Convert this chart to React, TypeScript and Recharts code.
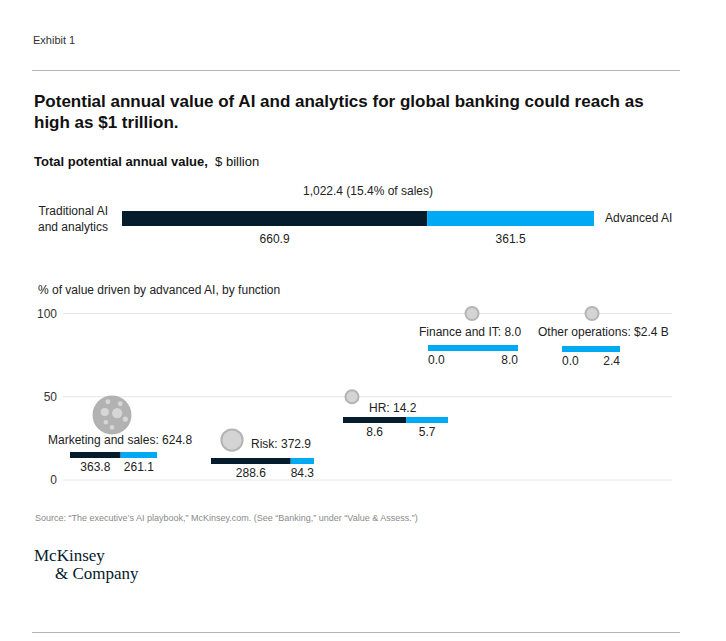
import React from 'react'
import {
    BarChart,
    Bar,
    XAxis,
    YAxis,
    ZAxis,
    ScatterChart,
    Scatter,
    CartesianGrid,
    LabelList,
} from 'recharts'

const NAVY = '#051c2c'
const BLUE = '#00a9f4'
const FONT = '"Liberation Sans", Arial, Helvetica, sans-serif'
const SERIF = '"Liberation Serif", "Times New Roman", serif'

// total potential annual value, $ billion
const overallTraditional = 660.9
const overallAdvanced = 361.5
const overallCaption = '1,022.4 (15.4% of sales)'

// by function
const functions = ['Marketing and sales', 'Risk', 'HR', 'Finance and IT', 'Other operations']
const functionTotals = [624.8, 372.9, 14.2, 8.0, 2.4]
const functionTotalLabels = ['624.8', '372.9', '14.2', '8.0', '$2.4 B']
const traditionalValues = [363.8, 288.6, 8.6, 0.0, 0.0]
const advancedValues = [261.1, 84.3, 5.7, 8.0, 2.4]
// % of value driven by advanced AI, as plotted
const advancedShare = [39, 24, 50, 100, 100]
const shareTicks = [0, 50, 100]

// where each function's mini bar + caption sits on the page
const miniLayout = [
    { left: 70, top: 452, width: 87, labelX: 48, labelY: 444 },
    { left: 211, top: 458, width: 103, labelX: 251, labelY: 448 },
    { left: 343, top: 417, width: 105, labelX: 369, labelY: 412 },
    { left: 428, top: 345, width: 90, labelX: 419, labelY: 336 },
    { left: 562, top: 346, width: 58, labelX: 538, labelY: 336 },
]

type TxtProps = {
    x: number
    y: number
    size?: number
    weight?: number
    anchor?: 'start' | 'middle' | 'end'
    color?: string
    family?: string
    children: React.ReactNode
}

// absolutely placed text, y is the baseline
function Txt({ x, y, size = 12, weight = 400, anchor = 'start', color = '#222', family = FONT, children }: TxtProps) {
    const shift = anchor === 'middle' ? '-50%' : anchor === 'end' ? '-100%' : '0'
    return (
        <div
            style={{
                position: 'absolute',
                left: x,
                top: y - 0.8465 * size,
                fontSize: size,
                lineHeight: `${size}px`,
                fontWeight: weight,
                color,
                fontFamily: family,
                whiteSpace: 'nowrap',
                transform: `translateX(${shift})`,
            }}
        >
            {children}
        </div>
    )
}

// value under a bar segment; when the navy part is empty the blue label
// also writes the 0.0 at the start and sits at the end of the bar
const segmentLabel = (gap: number, size: number, leadingZero = false) => (props: any) => {
    const { x, y, width, height, value } = props
    const base = y + height + gap
    const common = { fontSize: size, fill: '#222', fontFamily: FONT }
    if (leadingZero) {
        return (
            <g>
                <text x={x} y={base} textAnchor="start" {...common}>{(0).toFixed(1)}</text>
                <text x={x + width} y={base} textAnchor="end" {...common}>{Number(value).toFixed(1)}</text>
            </g>
        )
    }
    return (
        <text x={x + width / 2} y={base} textAnchor="middle" {...common}>
            {Number(value).toFixed(1)}
        </text>
    )
}

function MiniBar({ i }: { i: number }) {
    const pad = 16
    const lay = miniLayout[i]
    const trad = traditionalValues[i]
    const adv = advancedValues[i]
    const data = [{ name: functions[i], trad, adv }]
    return (
        <div style={{ position: 'absolute', left: lay.left - pad, top: lay.top }}>
            <BarChart
                width={lay.width + pad * 2}
                height={24}
                layout="vertical"
                data={data}
                barCategoryGap={0}
                margin={{ top: 0, right: pad, bottom: 18, left: pad }}
            >
                <XAxis type="number" hide domain={[0, trad + adv]} />
                <YAxis type="category" dataKey="name" hide />
                <Bar dataKey="trad" stackId="s" fill={NAVY} isAnimationActive={false}>
                    {trad > 0 && <LabelList dataKey="trad" content={segmentLabel(13, 12)} />}
                </Bar>
                <Bar dataKey="adv" stackId="s" fill={BLUE} isAnimationActive={false}>
                    <LabelList dataKey="adv" content={segmentLabel(13, 12, trad === 0)} />
                </Bar>
            </BarChart>
        </div>
    )
}

function Bubble(props: any) {
    const { cx, cy, size, payload } = props
    const r = Math.max(7.5, size || 0)
    if (payload && payload.total === Math.max(...functionTotals)) {
        const k = r / 19
        const dots = [
            [5, -2, 5],
            [-7, -3, 4],
            [-4, -13, 2.4],
            [8, -11, 2.4],
            [13, 4, 2.5],
            [-6, 7, 2.2],
            [0, 12, 2.2],
        ]
        return (
            <g>
                <circle cx={cx} cy={cy} r={r} fill="#b2b2b2" />
                {dots.map(([dx, dy, dr], j) => (
                    <circle key={j} cx={cx + dx * k} cy={cy + dy * k} r={dr * k} fill="#d6d6d6" />
                ))}
            </g>
        )
    }
    return <circle cx={cx} cy={cy} r={r - 1} fill="#d4d4d4" stroke="#b4b4b4" strokeWidth={2} />
}

export default function App() {
    const topData = [{ name: 'total', trad: overallTraditional, adv: overallAdvanced }]
    const scatterData = functions.map((name, i) => ({
        name,
        share: advancedShare[i],
        total: functionTotals[i],
    }))

    return (
        <div
            style={{
                position: 'absolute',
                left: 0,
                top: 0,
                width: 726,
                height: 641,
                background: '#fff',
                fontFamily: FONT,
                overflow: 'hidden',
            }}
        >
            <Txt x={33} y={44} size={11} color="#333">Exhibit 1</Txt>
            <div style={{ position: 'absolute', left: 32, top: 70, width: 648, height: 1, background: '#b3b3b3' }} />

            <Txt x={34} y={107.7} size={17} weight={700} color="#111">
                Potential annual value of AI and analytics for global banking could reach as
            </Txt>
            <Txt x={34} y={128.3} size={17} weight={700} color="#111">
                high as $1 trillion.
            </Txt>

            <Txt x={34} y={166.5} size={13} color="#111">
                <span style={{ fontWeight: 700 }}>Total potential annual value,</span>&nbsp;&nbsp;$ billion
            </Txt>

            <Txt x={368} y={195} size={12} anchor="middle">{overallCaption}</Txt>
            <Txt x={108} y={215} size={12} anchor="end">Traditional AI</Txt>
            <Txt x={108} y={231} size={12} anchor="end">and analytics</Txt>
            <Txt x={605} y={222.5} size={12}>Advanced AI</Txt>

            <div style={{ position: 'absolute', left: 102, top: 211 }}>
                <BarChart
                    width={512}
                    height={40}
                    layout="vertical"
                    data={topData}
                    barCategoryGap={0}
                    margin={{ top: 0, right: 20, bottom: 25, left: 20 }}
                >
                    <XAxis type="number" hide domain={[0, overallTraditional + overallAdvanced]} />
                    <YAxis type="category" dataKey="name" hide />
                    <Bar dataKey="trad" stackId="s" fill={NAVY} isAnimationActive={false}>
                        <LabelList dataKey="trad" content={segmentLabel(16.5, 12)} />
                    </Bar>
                    <Bar dataKey="adv" stackId="s" fill={BLUE} isAnimationActive={false}>
                        <LabelList dataKey="adv" content={segmentLabel(16.5, 12)} />
                    </Bar>
                </BarChart>
            </div>

            <Txt x={38} y={294} size={12}>% of value driven by advanced AI, by function</Txt>

            <div style={{ position: 'absolute', left: 0, top: 290 }}>
                <ScatterChart
                    width={726}
                    height={220}
                    margin={{ top: 23.5, right: 54, bottom: 30, left: 23 }}
                >
                    <CartesianGrid vertical={false} stroke="#e6e6e6" />
                    <XAxis
                        dataKey="name"
                        type="category"
                        scale="point"
                        hide
                        padding={{ left: 49, right: 80 }}
                        allowDuplicatedCategory={false}
                    />
                    <YAxis
                        dataKey="share"
                        type="number"
                        domain={[0, 100]}
                        ticks={shareTicks}
                        width={40}
                        axisLine={false}
                        tickLine={false}
                        tickMargin={0}
                        tick={{ fontSize: 12, fill: '#333', fontFamily: FONT }}
                    />
                    <ZAxis
                        dataKey="total"
                        type="number"
                        domain={[0, Math.max(...functionTotals)]}
                        range={[0, 19.5]}
                    />
                    <Scatter data={scatterData} shape={Bubble} isAnimationActive={false} />
                </ScatterChart>
            </div>

            {functions.map((name, i) => (
                <React.Fragment key={name}>
                    <Txt x={miniLayout[i].labelX} y={miniLayout[i].labelY} size={12}>
                        {name}: {functionTotalLabels[i]}
                    </Txt>
                    <MiniBar i={i} />
                </React.Fragment>
            ))}

            <Txt x={35} y={522} size={9} color="#8a8a8a">
                Source: “The executive’s AI playbook,” McKinsey.com. (See “Banking,” under “Value &amp; Assess.”)
            </Txt>

            <Txt x={34} y={561} size={17} family={SERIF} color={NAVY}>McKinsey</Txt>
            <Txt x={55} y={579} size={17} family={SERIF} color={NAVY}>&amp; Company</Txt>

            <div style={{ position: 'absolute', left: 32, top: 632, width: 648, height: 1, background: '#b3b3b3' }} />
        </div>
    )
}
